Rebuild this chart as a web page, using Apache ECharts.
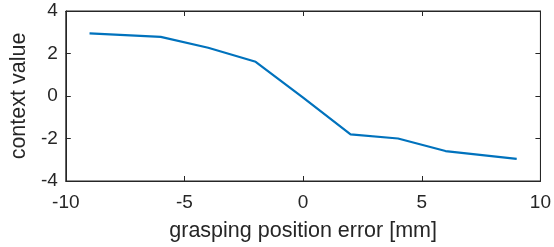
<!DOCTYPE html>
<html>
<head>
<meta charset="utf-8">
<script src="https://cdn.jsdelivr.net/npm/echarts@6/dist/echarts.min.js"></script>
<style>
  html, body { margin: 0; padding: 0; background: #fff; }
  #chart { width: 554px; height: 247px; }
</style>
</head>
<body>
<div id="chart"></div>
<script>
// grasping position error [mm] vs context value
const xValues = [-9, -6, -4, -2, 0, 2, 4, 6, 9];
const yValues = [2.95, 2.78, 2.27, 1.61, -0.08, -1.81, -2.0, -2.59, -2.96];

const axisColor = "#262626";
const font = "Liberation Sans, Helvetica, Arial, sans-serif";

const points = xValues.map((x, i) => [x, yValues[i]]);

const boxAxis = (pos, min, max, interval) => ({
    type: "value",
    position: pos,
    min: min,
    max: max,
    interval: interval,
    axisLine: { show: true, onZero: false, lineStyle: { color: axisColor, width: 1 } },
    axisTick: { show: true, inside: true, length: 5, lineStyle: { color: axisColor } },
    axisLabel: { show: false },
    splitLine: { show: false },
});

const chart = echarts.init(document.getElementById("chart"));
chart.setOption({
    animation: false,
    grid: {
        left: 57, right: 11, top: 11, bottom: 64,
        show: true, borderColor: axisColor, borderWidth: 1, backgroundColor: "transparent",
    },
    xAxis: [
        {
            type: "value",
            min: -10,
            max: 10,
            interval: 5,
            name: "grasping position error [mm]",
            nameLocation: "middle",
            nameGap: 39,
            nameTextStyle: { color: axisColor, fontSize: 21.5, fontFamily: font },
            axisLine: { show: true, onZero: false, lineStyle: { color: axisColor, width: 1 } },
            axisTick: { show: true, inside: true, length: 5, lineStyle: { color: axisColor } },
            axisLabel: { color: axisColor, fontSize: 19, fontFamily: font, margin: 12 },
            splitLine: { show: false },
        },
        boxAxis("top", -10, 10, 5),
    ],
    yAxis: [
        {
            type: "value",
            min: -4,
            max: 4,
            interval: 2,
            name: "context value",
            nameLocation: "middle",
            nameGap: 29,
            nameTextStyle: { color: axisColor, fontSize: 21.5, fontFamily: font },
            axisLine: { show: true, onZero: false, lineStyle: { color: axisColor, width: 1 } },
            axisTick: { show: true, inside: true, length: 5, lineStyle: { color: axisColor } },
            axisLabel: { color: axisColor, fontSize: 19, fontFamily: font, margin: 8 },
            splitLine: { show: false },
        },
        boxAxis("right", -4, 4, 2),
    ],
    series: [
        {
            type: "line",
            data: points,
            showSymbol: false,
            lineStyle: { color: "#0072BD", width: 2.2 },
        },
    ],
});
</script>
</body>
</html>
